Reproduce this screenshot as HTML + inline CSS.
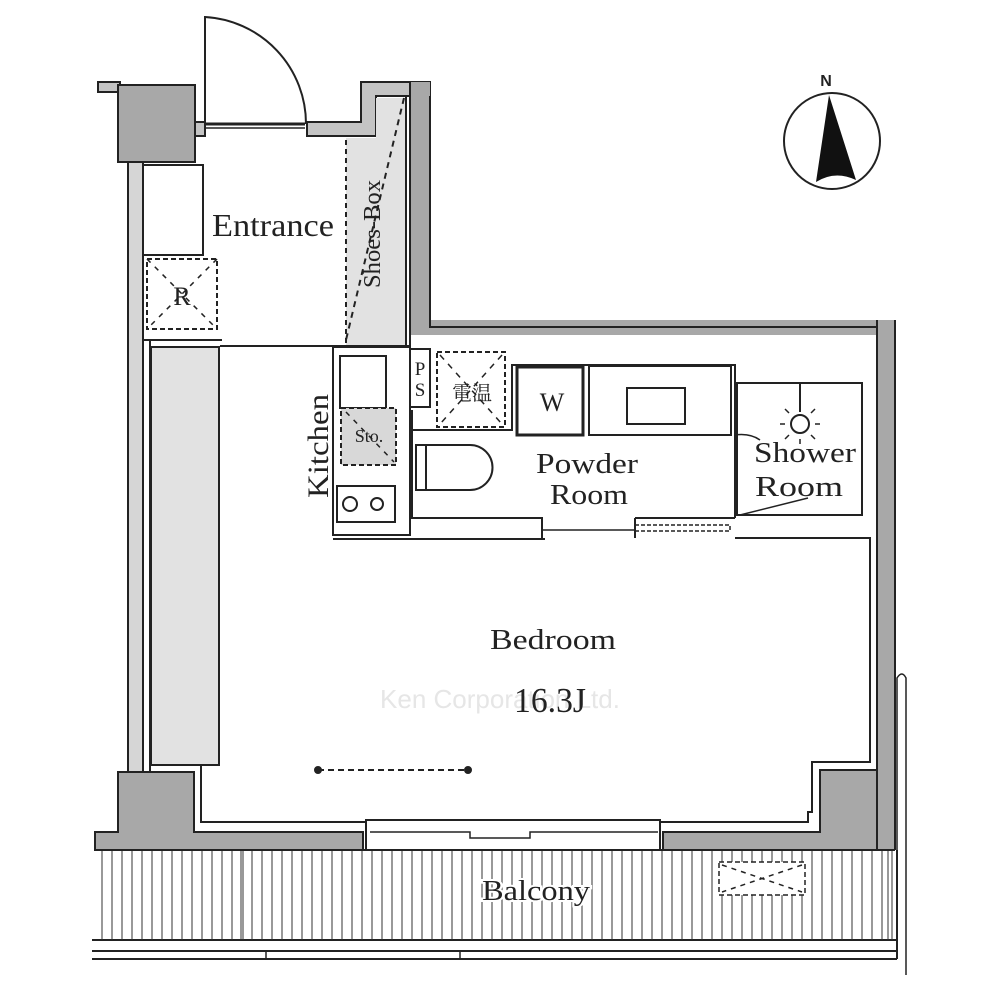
<!DOCTYPE html>
<html><head><meta charset="utf-8"><style>
html,body{margin:0;padding:0;background:#fff}
svg{display:block}
text{font-family:"Liberation Serif","Noto Serif CJK SC",serif;fill:#222}
</style></head><body>
<svg width="1000" height="1000" viewBox="0 0 1000 1000" xmlns="http://www.w3.org/2000/svg">
<g stroke="#222" stroke-width="2" fill="none">
<rect x="98" y="82" width="22" height="10" fill="#c4c4c4"/>
<rect x="118" y="85" width="77" height="77" fill="#a8a8a8"/>
<rect x="195" y="122" width="10" height="14" fill="#c4c4c4"/>
<rect x="128" y="162" width="15" height="610" fill="#d6d6d6"/>
<line x1="150" y1="340" x2="150" y2="772"/>
<rect x="143" y="165" width="60" height="90" fill="#fff"/>
<rect x="147" y="259" width="70" height="70" stroke-dasharray="5,3"/>
<line x1="147" y1="259" x2="217" y2="329" stroke-dasharray="5,6" stroke-width="1.5"/>
<line x1="217" y1="259" x2="147" y2="329" stroke-dasharray="5,6" stroke-width="1.5"/>
<line x1="143" y1="340" x2="222" y2="340"/>
<rect x="151" y="347" width="68" height="418" fill="#e2e2e2"/>
<line x1="205" y1="124" x2="305" y2="124" stroke-width="3"/>
<line x1="205" y1="128" x2="305" y2="128" stroke-width="1.5"/>
<path d="M205 124 L205 17 A107 107 0 0 1 306 124"/>
<path d="M307 122 L361 122 L361 82 L430 82 L430 96 L376 96 L376 136 L307 136 Z" fill="#c4c4c4"/>
<rect x="346" y="138" width="60" height="207" fill="#e2e2e2" stroke="none"/>
<rect x="376" y="98" width="30" height="40" fill="#e2e2e2" stroke="none"/>
<line x1="346" y1="140" x2="346" y2="345" stroke-dasharray="5,4"/>
<line x1="404" y1="98" x2="346" y2="340" stroke-dasharray="6,5"/>
<rect x="406" y="96" width="4" height="250" fill="#fff"/>
<path d="M410 82 L430 82 L430 320 L880 320 L880 335 L410 335 Z" fill="#a8a8a8" stroke="none"/>
<path d="M410 82 L410 345 M430 96 L430 327 L880 327"/>
<line x1="220" y1="346" x2="410" y2="346"/>
<rect x="877" y="320" width="18" height="530" fill="#a8a8a8" stroke="none"/>
<line x1="877" y1="320" x2="877" y2="770"/>
<line x1="895" y1="320" x2="895" y2="850"/>
<path d="M897 850 L897 678 Q902 670 906 678 L906 975" stroke-width="1.5"/>
<path d="M95 832 L118 832 L118 772 L194 772 L194 832 L363 832 L363 850 L95 850 Z" fill="#a8a8a8"/>
<path d="M663 832 L820 832 L820 770 L877 770 L877 850 L663 850 Z" fill="#a8a8a8"/>
<line x1="95" y1="850" x2="895" y2="850"/>
<path d="M201 765 L201 822 L365 822"/>
<path d="M660 822 L808 822 L808 812 L812 812 L812 762 L870 762 L870 538 L735 538"/>
<rect x="366" y="820" width="294" height="30" fill="#fff"/>
<path d="M370 832 L470 832 L470 838 L530 838 L530 832 L658 832" stroke-width="1.5"/>
<line x1="366" y1="820" x2="660" y2="820"/>
<rect x="333" y="347" width="77" height="188" fill="#fff"/>
<rect x="340" y="356" width="46" height="52"/>
<rect x="341" y="408" width="55" height="57" fill="#d8d8d8" stroke-dasharray="5,3"/>
<line x1="346" y1="412" x2="394" y2="462" stroke-dasharray="5,6" stroke-width="1.5"/>
<rect x="337" y="486" width="58" height="36"/>
<circle cx="350" cy="504" r="7"/><circle cx="377" cy="504" r="6"/>
<line x1="333" y1="539" x2="545" y2="539"/>
<rect x="410" y="349" width="20" height="58"/>
<rect x="437" y="352" width="68" height="75" stroke-dasharray="5,3"/>
<line x1="440" y1="355" x2="502" y2="424" stroke-dasharray="6,6" stroke-width="1.5"/>
<line x1="502" y1="355" x2="440" y2="424" stroke-dasharray="6,6" stroke-width="1.5"/>
<path d="M412 430 L512 430 L512 365 L735 365 L735 518"/>
<path d="M412 410 L412 518 L542 518 L542 538"/>
<rect x="517" y="367" width="66" height="68" stroke-width="3"/>
<rect x="589" y="366" width="142" height="69"/>
<rect x="627" y="388" width="58" height="36"/>
<path d="M416 445 L470 445 A21 21 0 0 1 470 490 L416 490 Z"/>
<line x1="426" y1="445" x2="426" y2="490"/>
<line x1="542" y1="530" x2="635" y2="530" stroke-width="1.5"/>
<rect x="635" y="525" width="95" height="6" stroke-dasharray="4,2" stroke-width="1.5"/>
<path d="M635 518 L735 518 M635 518 L635 538"/>
<rect x="737" y="383" width="125" height="132"/>
<line x1="800" y1="383" x2="800" y2="412"/>
<circle cx="800" cy="424" r="9"/>
<path d="M800 409v-5M800 439v5M785 424h-5M815 424h5M789 413l-4-4M811 413l4-4M789 435l-4 4M811 435l4 4" stroke-width="1.5"/>
<path d="M735 435 Q750 433 760 440" stroke-width="1.5"/>
<line x1="740" y1="515" x2="808" y2="498" stroke-width="1.5"/>
<line x1="318" y1="770" x2="468" y2="770" stroke-dasharray="6,4"/>
<circle cx="318" cy="770" r="3" fill="#222"/><circle cx="468" cy="770" r="3" fill="#222"/>
<line x1="92" y1="940" x2="897" y2="940"/>
<line x1="92" y1="951" x2="897" y2="951"/>
<line x1="92" y1="959" x2="897" y2="959"/>
<line x1="266" y1="951" x2="266" y2="959" stroke-width="1.5"/>
<line x1="460" y1="951" x2="460" y2="959" stroke-width="1.5"/>
<line x1="897" y1="850" x2="897" y2="959"/>
</g>
<g stroke="#333" stroke-width="1">
<path d="M102 851V940M112 851V940M122 851V940M132 851V940M142 851V940M152 851V940M162 851V940M172 851V940M182 851V940M192 851V940M202 851V940M212 851V940M222 851V940M232 851V940M241 851V940M243 851V940M252 851V940M262 851V940M272 851V940M282 851V940M292 851V940M302 851V940M312 851V940M322 851V940M332 851V940M342 851V940M352 851V940M362 851V940M372 851V940M382 851V940M392 851V940M402 851V940M412 851V940M422 851V940M432 851V940M442 851V940M452 851V940M462 851V940M472 851V940M482 851V940M492 851V940M502 851V940M512 851V940M522 851V940M532 851V940M542 851V940M552 851V940M562 851V940M572 851V940M582 851V940M592 851V940M602 851V940M612 851V940M622 851V940M632 851V940M642 851V940M652 851V940M662 851V940M672 851V940M682 851V940M692 851V940M702 851V940M712 851V940M722 851V940M732 851V940M742 851V940M752 851V940M762 851V940M772 851V940M782 851V940M792 851V940M802 851V940M812 851V940M822 851V940M832 851V940M842 851V940M852 851V940M862 851V940M872 851V940M882 851V940M888 851V940M892 851V940"/>
</g>
<g stroke="#222" stroke-width="1.5" fill="none">
<rect x="719" y="862" width="86" height="33" fill="#fff" stroke-dasharray="5,3"/>
<line x1="722" y1="865" x2="802" y2="892" stroke-dasharray="5,5"/>
<line x1="802" y1="865" x2="722" y2="892" stroke-dasharray="5,5"/>
</g>
<circle cx="832" cy="141" r="48" fill="none" stroke="#222" stroke-width="2"/>
<path d="M829 95 L856 180 Q835 170 816 182 Z" fill="#111"/>
<text x="826" y="86" style="font-family:'Liberation Sans',sans-serif;font-weight:bold" font-size="16" text-anchor="middle">N</text>
<text x="273" y="236" font-size="32" text-anchor="middle" textLength="122" lengthAdjust="spacingAndGlyphs">Entrance</text>
<text x="0" y="0" font-size="24" transform="translate(380,288) rotate(-90)" textLength="108" lengthAdjust="spacingAndGlyphs">Shoes-Box</text>
<text x="182" y="305" font-size="26" text-anchor="middle">R</text>
<text x="0" y="0" font-size="30" transform="translate(328,498) rotate(-90)" textLength="104" lengthAdjust="spacingAndGlyphs">Kitchen</text>
<text x="369" y="442" font-size="18" text-anchor="middle">Sto.</text>
<text x="420" y="375" font-size="19" text-anchor="middle">P</text>
<text x="420" y="396" font-size="19" text-anchor="middle">S</text>
<text x="472" y="400" font-size="20" text-anchor="middle">電温</text>
<text x="552" y="411" font-size="26" text-anchor="middle">W</text>
<text x="587" y="473" font-size="29" text-anchor="middle" textLength="102" lengthAdjust="spacingAndGlyphs">Powder</text>
<text x="589" y="504" font-size="29" text-anchor="middle" textLength="78" lengthAdjust="spacingAndGlyphs">Room</text>
<text x="805" y="462" font-size="29" text-anchor="middle" textLength="102" lengthAdjust="spacingAndGlyphs">Shower</text>
<text x="799" y="496" font-size="29" text-anchor="middle" textLength="88" lengthAdjust="spacingAndGlyphs">Room</text>
<text x="500" y="708" font-size="26" text-anchor="middle" style="font-family:'Liberation Sans',sans-serif;fill:#e6e6e6">Ken Corporation Ltd.</text>
<text x="553" y="649" font-size="29" text-anchor="middle" textLength="126" lengthAdjust="spacingAndGlyphs">Bedroom</text>
<text x="550" y="712" font-size="35" text-anchor="middle" textLength="72" lengthAdjust="spacingAndGlyphs">16.3J</text>
<text x="536" y="900" font-size="29" text-anchor="middle" textLength="108" lengthAdjust="spacingAndGlyphs" stroke="#fff" stroke-width="4" paint-order="stroke">Balcony</text>
</svg>
</body></html>
